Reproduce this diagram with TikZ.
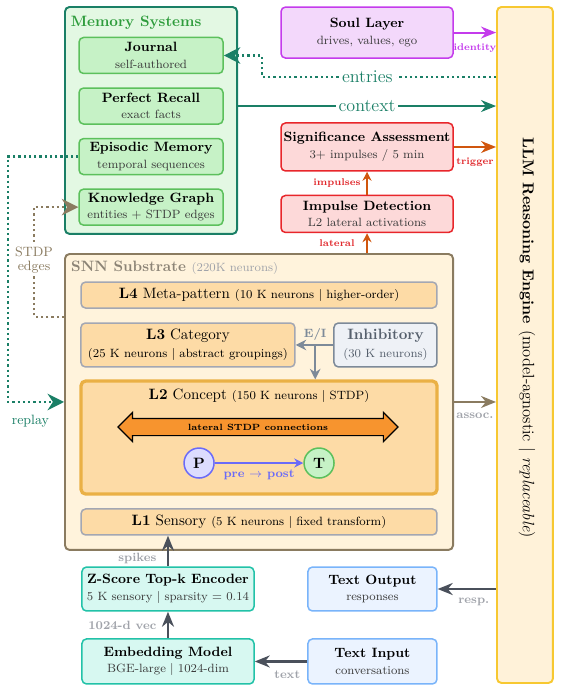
\documentclass[tikz,border=0pt]{standalone}
\usepackage{amsmath}
\usetikzlibrary{positioning,arrows.meta,shapes.arrows,calc}
\definecolor{memfill}{HTML}{E3F8E3}
\definecolor{memline}{HTML}{1A7F66}
\definecolor{memhead}{HTML}{2E9C3C}
\definecolor{itemfill}{HTML}{C6F2C6}
\definecolor{itemline}{HTML}{5CC05C}
\definecolor{soulfill}{HTML}{F3D8FB}
\definecolor{soulline}{HTML}{C43BEC}
\definecolor{alertfill}{HTML}{FDD9D9}
\definecolor{alertline}{HTML}{E8262B}
\definecolor{alerttext}{HTML}{E0262A}
\definecolor{impline}{HTML}{D0560E}
\definecolor{llmfill}{HTML}{FFF2D9}
\definecolor{llmline}{HTML}{F7C831}
\definecolor{snnfill}{HTML}{FFF3DC}
\definecolor{snnline}{HTML}{8A7B60}
\definecolor{snnhead}{HTML}{8C8476}
\definecolor{layerfill}{HTML}{FDDBA6}
\definecolor{layerline}{HTML}{A3A7B3}
\definecolor{conceptline}{HTML}{EAB045}
\definecolor{inhfill}{HTML}{EEF1F6}
\definecolor{inhline}{HTML}{7D8A99}
\definecolor{inhtext}{HTML}{56606D}
\definecolor{latfill}{HTML}{F7942E}
\definecolor{prefill}{HTML}{DCDCFE}
\definecolor{preline}{HTML}{6B6BF8}
\definecolor{encfill}{HTML}{D7F8F1}
\definecolor{encline}{HTML}{22C2A8}
\definecolor{iofill}{HTML}{EBF3FF}
\definecolor{ioline}{HTML}{79B4FA}
\definecolor{ioarrow}{HTML}{4A505B}
\definecolor{faint}{HTML}{A0A3AA}
\definecolor{sub}{HTML}{3A3A3A}
\tikzset{
  box/.style={draw, line width=1pt, rounded corners=3pt, align=center,
              inner sep=1pt, font=\small\bfseries},
  group/.style={draw, line width=1.3pt, rounded corners=3pt, inner sep=0pt},
  mem/.style={box, fill=itemfill, draw=itemline, minimum width=96pt, minimum height=24pt},
  soul/.style={box, fill=soulfill, draw=soulline, minimum width=114.7pt},
  alert/.style={box, fill=alertfill, draw=alertline, minimum width=114.7pt},
  layer/.style={box, fill=layerfill, draw=layerline, font=\normalsize, minimum height=17.3pt},
  inhib/.style={box, fill=inhfill, draw=inhline, font=\normalsize\bfseries\color{inhtext}},
  enc/.style={box, fill=encfill, draw=encline, minimum width=114.7pt, minimum height=29.3pt},
  io/.style={box, fill=iofill, draw=ioline, minimum width=86pt, minimum height=29.3pt},
  neuron/.style={circle, draw, line width=1pt, minimum size=20pt, inner sep=0pt,
                 font=\normalsize\bfseries},
  flow/.style={-{Stealth[length=10pt, width=8pt]}, line width=1.3pt},
  memo/.style={memline, line width=1.5pt, dash pattern=on 1.5pt off 2pt,
               -{Stealth[length=11pt, width=11pt]}},
  tag/.style={font=\fontsize{6.5}{8}\selectfont\bfseries, inner sep=1pt},
  faded/.style={font=\footnotesize\bfseries, text=faint, inner sep=1pt},
}
\begin{document}
\begin{tikzpicture}[x=1pt, y=-1pt]
\useasboundingbox (0,0) rectangle (374,460.7);

% ---- memory systems, top left ----------------------------------------------
\node[group, fill=memfill, draw=memline, minimum width=114.7pt, minimum height=151.3pt]
  (memory) at (100.7,80.3) {};
\node[anchor=west, inner sep=1pt, font=\normalsize\bfseries, text=memhead] (memtitle)
  at (46,14.9) {Memory Systems};
\node[mem] (journal) at (100.7,37) {Journal\\\footnotesize\mdseries\color{sub}self-authored};
\node[mem, below=8.7pt of journal] (recall) {Perfect Recall\\\footnotesize\mdseries\color{sub}exact facts};
\node[mem, below=8.7pt of recall] (episodic) {Episodic Memory\\\footnotesize\mdseries\color{sub}temporal sequences};
\node[mem, below=8.7pt of episodic] (graph) {Knowledge Graph\\\footnotesize\mdseries\color{sub}entities + STDP edges};

% ---- soul, significance, impulses ------------------------------------------
\node[soul, minimum height=34pt] (soul) at (244.7,21.7)
  {Soul Layer\\\footnotesize\mdseries\color{sub}drives, values, ego};
\node[alert, minimum height=32pt] (signif) at (244.7,98)
  {Significance Assessment\\\footnotesize\mdseries\color{sub}3+ impulses / 5 min};
\node[alert, minimum height=24.7pt, below=15.3pt of signif] (impulse)
  {Impulse Detection\\\footnotesize\mdseries\color{sub}L2 lateral activations};

% ---- reasoning engine, right edge -------------------------------------------
\node[group, fill=llmfill, draw=llmline, minimum width=37.3pt, minimum height=450.7pt]
  (llm) at (350,230) {};
\node[rotate=-90, inner sep=0pt, font=\fontsize{10.5}{12}\selectfont\bfseries] (llmtext) at (351.3,225.3)
  {LLM Reasoning Engine {\fontsize{11}{13}\selectfont\mdseries(model-agnostic | \textit{replaceable})}};

% ---- SNN substrate -----------------------------------------------------------
\node[group, fill=snnfill, draw=snnline, minimum width=258.7pt, minimum height=197.3pt]
  (snn) at (172.7,268) {};
\node[anchor=west, inner sep=1pt, font=\normalsize\bfseries, text=snnhead] (snntitle)
  at (46.3,178.7) {SNN Substrate {\footnotesize\mdseries\color{faint}(220K neurons)}};
\node[layer, minimum width=237.3pt] (l4) at (172.7,196.7)
  {\textbf{L4} Meta-pattern {\footnotesize(10 K neurons | higher-order)}};
\node[layer, minimum width=142.7pt, minimum height=29.3pt] (l3) at (125.3,230)
  {\textbf{L3} Category\\\footnotesize(25 K neurons | abstract groupings)};
\node[inhib, minimum width=68.7pt, minimum height=29.3pt] (inhib) at (257,230)
  {Inhibitory\\\footnotesize\mdseries(30 K neurons)};
\node[layer, draw=conceptline, line width=2.2pt, minimum width=237.3pt, minimum height=75.3pt]
  (l2) at (172.7,291.7) {};
\node[font=\normalsize, inner sep=1pt] (l2title) at (172.7,264)
  {\textbf{L2} Concept {\footnotesize(150 K neurons | STDP)}};
\node[double arrow, draw=black, fill=latfill, line width=0.8pt, minimum height=186.7pt,
      minimum width=18.7pt, double arrow head extend=4pt, inner ysep=3.2pt,
      font=\fontsize{6}{7}\selectfont\bfseries] (lateral) at (172,284.7) {lateral STDP connections};
\node[neuron, fill=prefill, draw=preline] (pre) at (132.7,308.7) {P};
\node[neuron, fill=itemfill, draw=itemline] (post) at (212.7,308.7) {T};
\node[layer, minimum width=237.3pt] (l1) at (172.7,348)
  {\textbf{L1} Sensory {\footnotesize(5 K neurons | fixed transform)}};

% ---- encoders and text i/o, bottom ------------------------------------------
\node[enc] (zscore) at (112,392.7)
  {Z-Score Top-k Encoder\\\footnotesize\mdseries\color{sub}5 K sensory | sparsity $=$ 0.14};
\node[enc, minimum height=30pt] (embed) at (112,441)
  {Embedding Model\\\footnotesize\mdseries\color{sub}BGE-large | 1024-dim};
\node[io] (textout) at (248.3,392.7) {Text Output\\\footnotesize\mdseries\color{sub}responses};
\node[io, minimum height=30pt] (textin) at (248.3,441) {Text Input\\\footnotesize\mdseries\color{sub}conversations};

% ---- arrows into the engine --------------------------------------------------
\draw[flow, soulline] (soul.east) -- node[tag, text=soulline, below=6pt] {identity} (soul.east -| llm.west);
\draw[flow, memline] (memory.east |- recall) -- node[fill=white, inner sep=2pt, font=\large, text=memline] {context} (llm.west |- recall);
\draw[flow, impline] (signif.east) -- node[tag, text=alerttext, below=5.5pt] {trigger} (signif.east -| llm.west);
\draw[flow, snnline] (snn.east) -- node[faded, below=5.5pt] {assoc.} (snn.east -| llm.west);
% engine back to the journal
\coordinate (ebend) at (174.7,51.3);
\draw[memo] (ebend -| llm.west) -- node[pos=0.55, fill=white, inner sep=2pt, font=\large, text=memline] {entries}
  (ebend) |- (journal.east);

% ---- impulse path --------------------------------------------------------------
\draw[flow, impline, line width=1pt, -{Stealth[length=6pt, width=6pt]}] (impulse) -- node[tag, text=alerttext, xshift=-20pt] {impulses} (signif);
\draw[flow, impline, line width=1pt, -{Stealth[length=6pt, width=6pt]}] (snn.north -| impulse) -- node[tag, text=alerttext, xshift=-20pt] {lateral} (impulse);

% ---- inside the substrate ----------------------------------------------------
\draw[flow, inhline, -{Stealth[length=7pt, width=7pt]}] (inhib.west) -- coordinate[pos=0.48] (ei) (l3.east);
\draw[flow, inhline, -{Stealth[length=7pt, width=7pt]}] (ei) -- (ei |- l2.north);
\node[above=2pt of ei, inner sep=1pt, font=\footnotesize\bfseries, text=inhline] (eilbl) {E/I};
\draw[flow, preline, line width=1pt, -{Stealth[length=6pt, width=6pt]}] (pre) -- node[below=3pt, inner sep=1pt, font=\footnotesize\bfseries, text=preline] {pre $\rightarrow$ post} (post);

% ---- replay and STDP edges, left margin ---------------------------------------
\coordinate (rturn) at (5.3,0);
\draw[memo] (episodic.west) -- (episodic.west -| rturn) |- node[pos=0.7, below=7pt, inner sep=1pt, font=\small, text=memline] {replay} (snn.west);
\coordinate (sturn) at (22.7,211.3);
\draw[memo, snnline] (snn.west |- sturn) -- (sturn) |- node[pos=0.26, fill=white, inner sep=1pt, align=center, font=\small, text=snnline] {STDP\\[-1.7pt]edges} (graph.west);

% ---- input and output ------------------------------------------------------------
\draw[flow, ioarrow, line width=1.6pt] (embed) -- node[faded, left=6pt] {1024-d vec} (zscore);
\draw[flow, ioarrow, line width=1.6pt] (zscore) -- node[faded, pos=0.25, left=6pt] {spikes} (zscore |- l1.south);
\draw[flow, ioarrow, line width=1.6pt] (textin) -- node[faded, pos=0.38, below=4.5pt] {text} (embed);
\draw[flow, ioarrow, line width=1.6pt] (llm.west |- textout) -- node[faded, pos=0.38, below=4pt] {resp.} (textout);
\end{tikzpicture}
\end{document}
